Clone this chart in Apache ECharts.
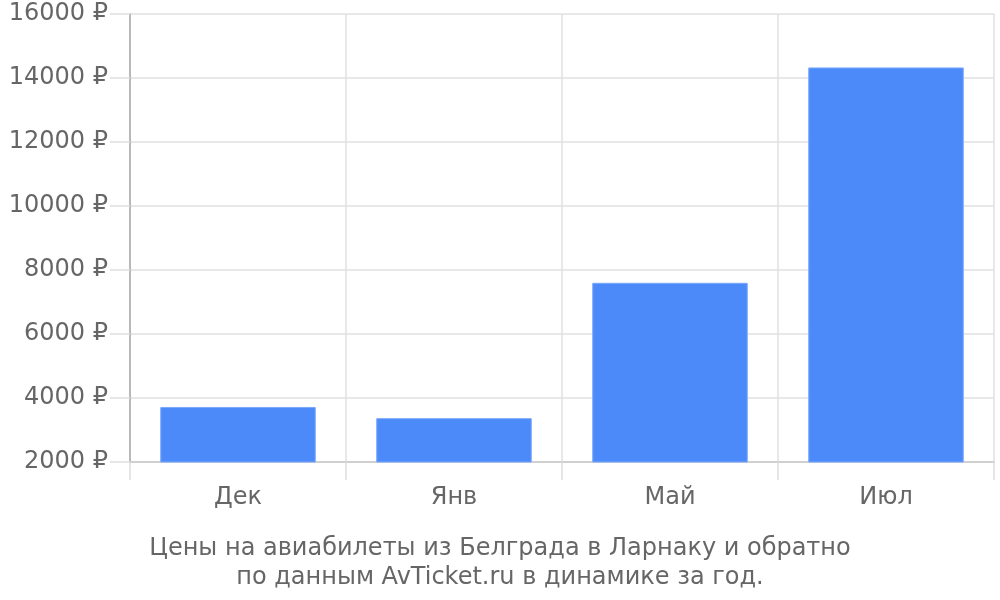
<!DOCTYPE html>
<html><head><meta charset="utf-8">
<script src="https://cdn.jsdelivr.net/npm/echarts@6/dist/echarts.min.js"></script>
<style>html,body{margin:0;padding:0;background:#fff}#c{width:1000px;height:600px}</style>
</head><body><div id="c"></div>
<script>
var categories = ['Дек', 'Янв', 'Май', 'Июл'];
var prices = [3720, 3370, 7600, 14330];
var yTicks = { min: 2000, max: 16000, interval: 2000 };
var titleLines = ['Цены на авиабилеты из Белграда в Ларнаку и обратно', 'по данным AvTicket.ru в динамике за год.'];

var chart = echarts.init(document.getElementById('c'), null, { renderer: 'canvas' });
chart.setOption({
  animation: false,
  textStyle: { fontFamily: 'DejaVu Sans' },
  title: {
    text: titleLines.join('\n'),
    left: 'center', top: 529,
    textStyle: { fontFamily: 'DejaVu Sans', fontSize: 24, fontWeight: 'normal', color: '#666', lineHeight: 29 }
  },
  grid: { left: 130, right: 6, top: 14, bottom: 138 },
  xAxis: {
    type: 'category', data: categories,
    axisLine: { lineStyle: { color: '#c8c8c8', width: 1.5 } },
    axisTick: { show: true, length: 18, lineStyle: { color: '#ddd', width: 1.5 } },
    splitLine: { show: true, lineStyle: { color: '#e0e0e0', width: 1.5 } },
    axisLabel: { color: '#666', fontSize: 24, margin: 24, fontFamily: 'DejaVu Sans' }
  },
  yAxis: {
    type: 'value', min: yTicks.min, max: yTicks.max, interval: yTicks.interval,
    axisLine: { show: true, lineStyle: { color: '#aaa', width: 1.5 } },
    axisTick: { show: true, length: 20, lineStyle: { color: '#e0e0e0', width: 1.5 } },
    splitLine: { show: true, lineStyle: { color: '#e0e0e0', width: 1.5 } },
    axisLabel: { color: '#666', fontSize: 24, margin: 22, fontFamily: 'DejaVu Sans', formatter: function (v) { return v + ' ₽'; } }
  },
  series: [{
    type: 'bar', data: prices, barCategoryGap: '28%',
    itemStyle: { color: '#4d8af9', borderColor: '#7aa8fb', borderWidth: 1 }
  }]
});
</script></body></html>
